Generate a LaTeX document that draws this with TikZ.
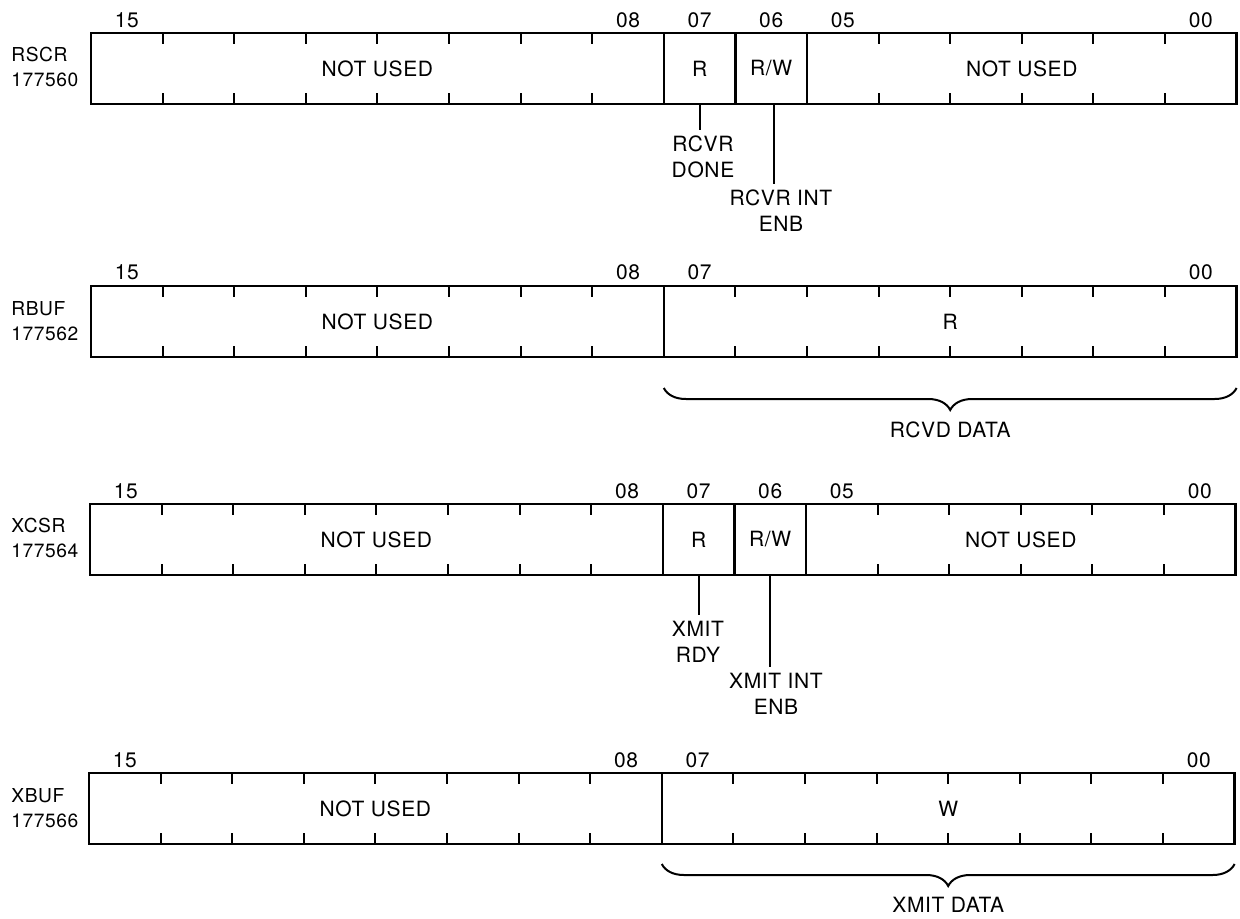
\documentclass[tikz,border=0pt]{standalone}
\usepackage{fontspec}
\setmainfont[LetterSpace=3]{TeX Gyre Heros}
\usetikzlibrary{positioning,calc,decorations.pathreplacing}

\tikzset{
  field/.style={draw,line width=1.2pt,inner sep=0pt,outer sep=0pt,
    minimum height=35.5pt,minimum width=#1*35.8pt},
  field/.default=1,
  bitno/.style={inner sep=1pt},
  regname/.style={anchor=west,align=left,inner sep=0pt,font=\fontsize{9.6}{12.5}\selectfont},
  leadlbl/.style={align=center,inner xsep=0pt,inner ysep=3pt,font=\fontsize{10.5}{13}\selectfont},
  lead/.style={line width=1pt},
  tick/.style={line width=1pt},
  databrace/.style={line width=1pt,decorate,decoration={brace,mirror,amplitude=11pt}}
}

\begin{document}
\begin{tikzpicture}[x=0.5pt,y=-0.5pt,font=\fontsize{10.5}{12.5}\selectfont]
  \useasboundingbox (0,0) rectangle (1240,919);

  % RSCR
  \node[regname] (rscrname) at (11,67) {RSCR\\177560};
  \node[field=8,anchor=north west] (rscrhi) at (91,33) {NOT USED};
  \node[field,right=0pt of rscrhi] (rscrR) {R};
  \node[field,right=0pt of rscrR] (rscrRW) {R/W};
  \node[field=6,right=0pt of rscrRW] (rscrlo) {NOT USED};
  \foreach \b/\t in {15/15,8/08,7/07,6/06,5/05,0/00}
    \node[bitno] (rscrn\t) at ({91+(15.5-\b)*71.6},20) {\t};
  \node[leadlbl] (rcvrdone) at (703,157) {RCVR\\DONE};
  \node[leadlbl] (rcvrint) at (781,211) {RCVR INT\\ENB};
  \draw[lead] (rscrR.south) -- (rscrR.south |- rcvrdone.north);
  \draw[lead] ([xshift=1.5pt]rscrRW.south) -- ([xshift=1.5pt]rscrRW.south |- rcvrint.north);

  % RBUF
  \node[regname] (rbufname) at (11,321) {RBUF\\177562};
  \node[field=8,anchor=north west] (rbufhi) at (91,286) {NOT USED};
  \node[field=8,right=0pt of rbufhi] (rbuflo) {R};
  \foreach \b/\t in {15/15,8/08,7/07,0/00}
    \node[bitno] (rbufn\t) at ({91+(15.5-\b)*71.6},272) {\t};
  \draw[databrace] ([yshift=-15.5pt]rbuflo.south west) -- ([yshift=-15.5pt]rbuflo.south east)
    node[midway,yshift=-21pt] (rcvddata) {RCVD DATA};

  % XCSR
  \node[regname] (xcsrname) at (11,538) {XCSR\\177564};
  \node[field=8,anchor=north west] (xcsrhi) at (90,504) {NOT USED};
  \node[field,right=0pt of xcsrhi] (xcsrR) {R};
  \node[field,right=0pt of xcsrR] (xcsrRW) {R/W};
  \node[field=6,right=0pt of xcsrRW] (xcsrlo) {NOT USED};
  \foreach \b/\t in {15/15,8/08,7/07,6/06,5/05,0/00}
    \node[bitno] (xcsrn\t) at ({90+(15.5-\b)*71.6},491) {\t};
  \node[leadlbl] (xmitrdy) at (698,642) {XMIT\\RDY};
  \node[leadlbl] (xmitint) at (776,694) {XMIT INT\\ENB};
  \draw[lead] (xcsrR.south) -- (xcsrR.south |- xmitrdy.north);
  \draw[lead] (xcsrRW.south) -- (xcsrRW.south |- xmitint.north);

  % XBUF
  \node[regname] (xbufname) at (11,808) {XBUF\\177566};
  \node[field=8,anchor=north west] (xbufhi) at (89,773) {NOT USED};
  \node[field=8,right=0pt of xbufhi] (xbuflo) {W};
  \foreach \b/\t in {15/15,8/08,7/07,0/00}
    \node[bitno] (xbufn\t) at ({89+(15.5-\b)*71.6},760) {\t};
  \draw[databrace] ([yshift=-10pt]xbuflo.south west) -- ([yshift=-10pt]xbuflo.south east)
    node[midway,yshift=-20.5pt] (xmitdata) {XMIT DATA};

  % bit ticks
  \foreach \f/\n in {rscrhi/8,rscrlo/6,rbufhi/8,rbuflo/8,xcsrhi/8,xcsrlo/6,xbufhi/8,xbuflo/8}{
    \pgfmathtruncatemacro{\m}{\n-1}
    \foreach \k in {1,...,\m}{
      \draw[tick] ($(\f.north west)!\k/\n!(\f.north east)$) -- ++(0,11);
      \draw[tick] ($(\f.south west)!\k/\n!(\f.south east)$) -- ++(0,-11);
    }
  }
\end{tikzpicture}
\end{document}
